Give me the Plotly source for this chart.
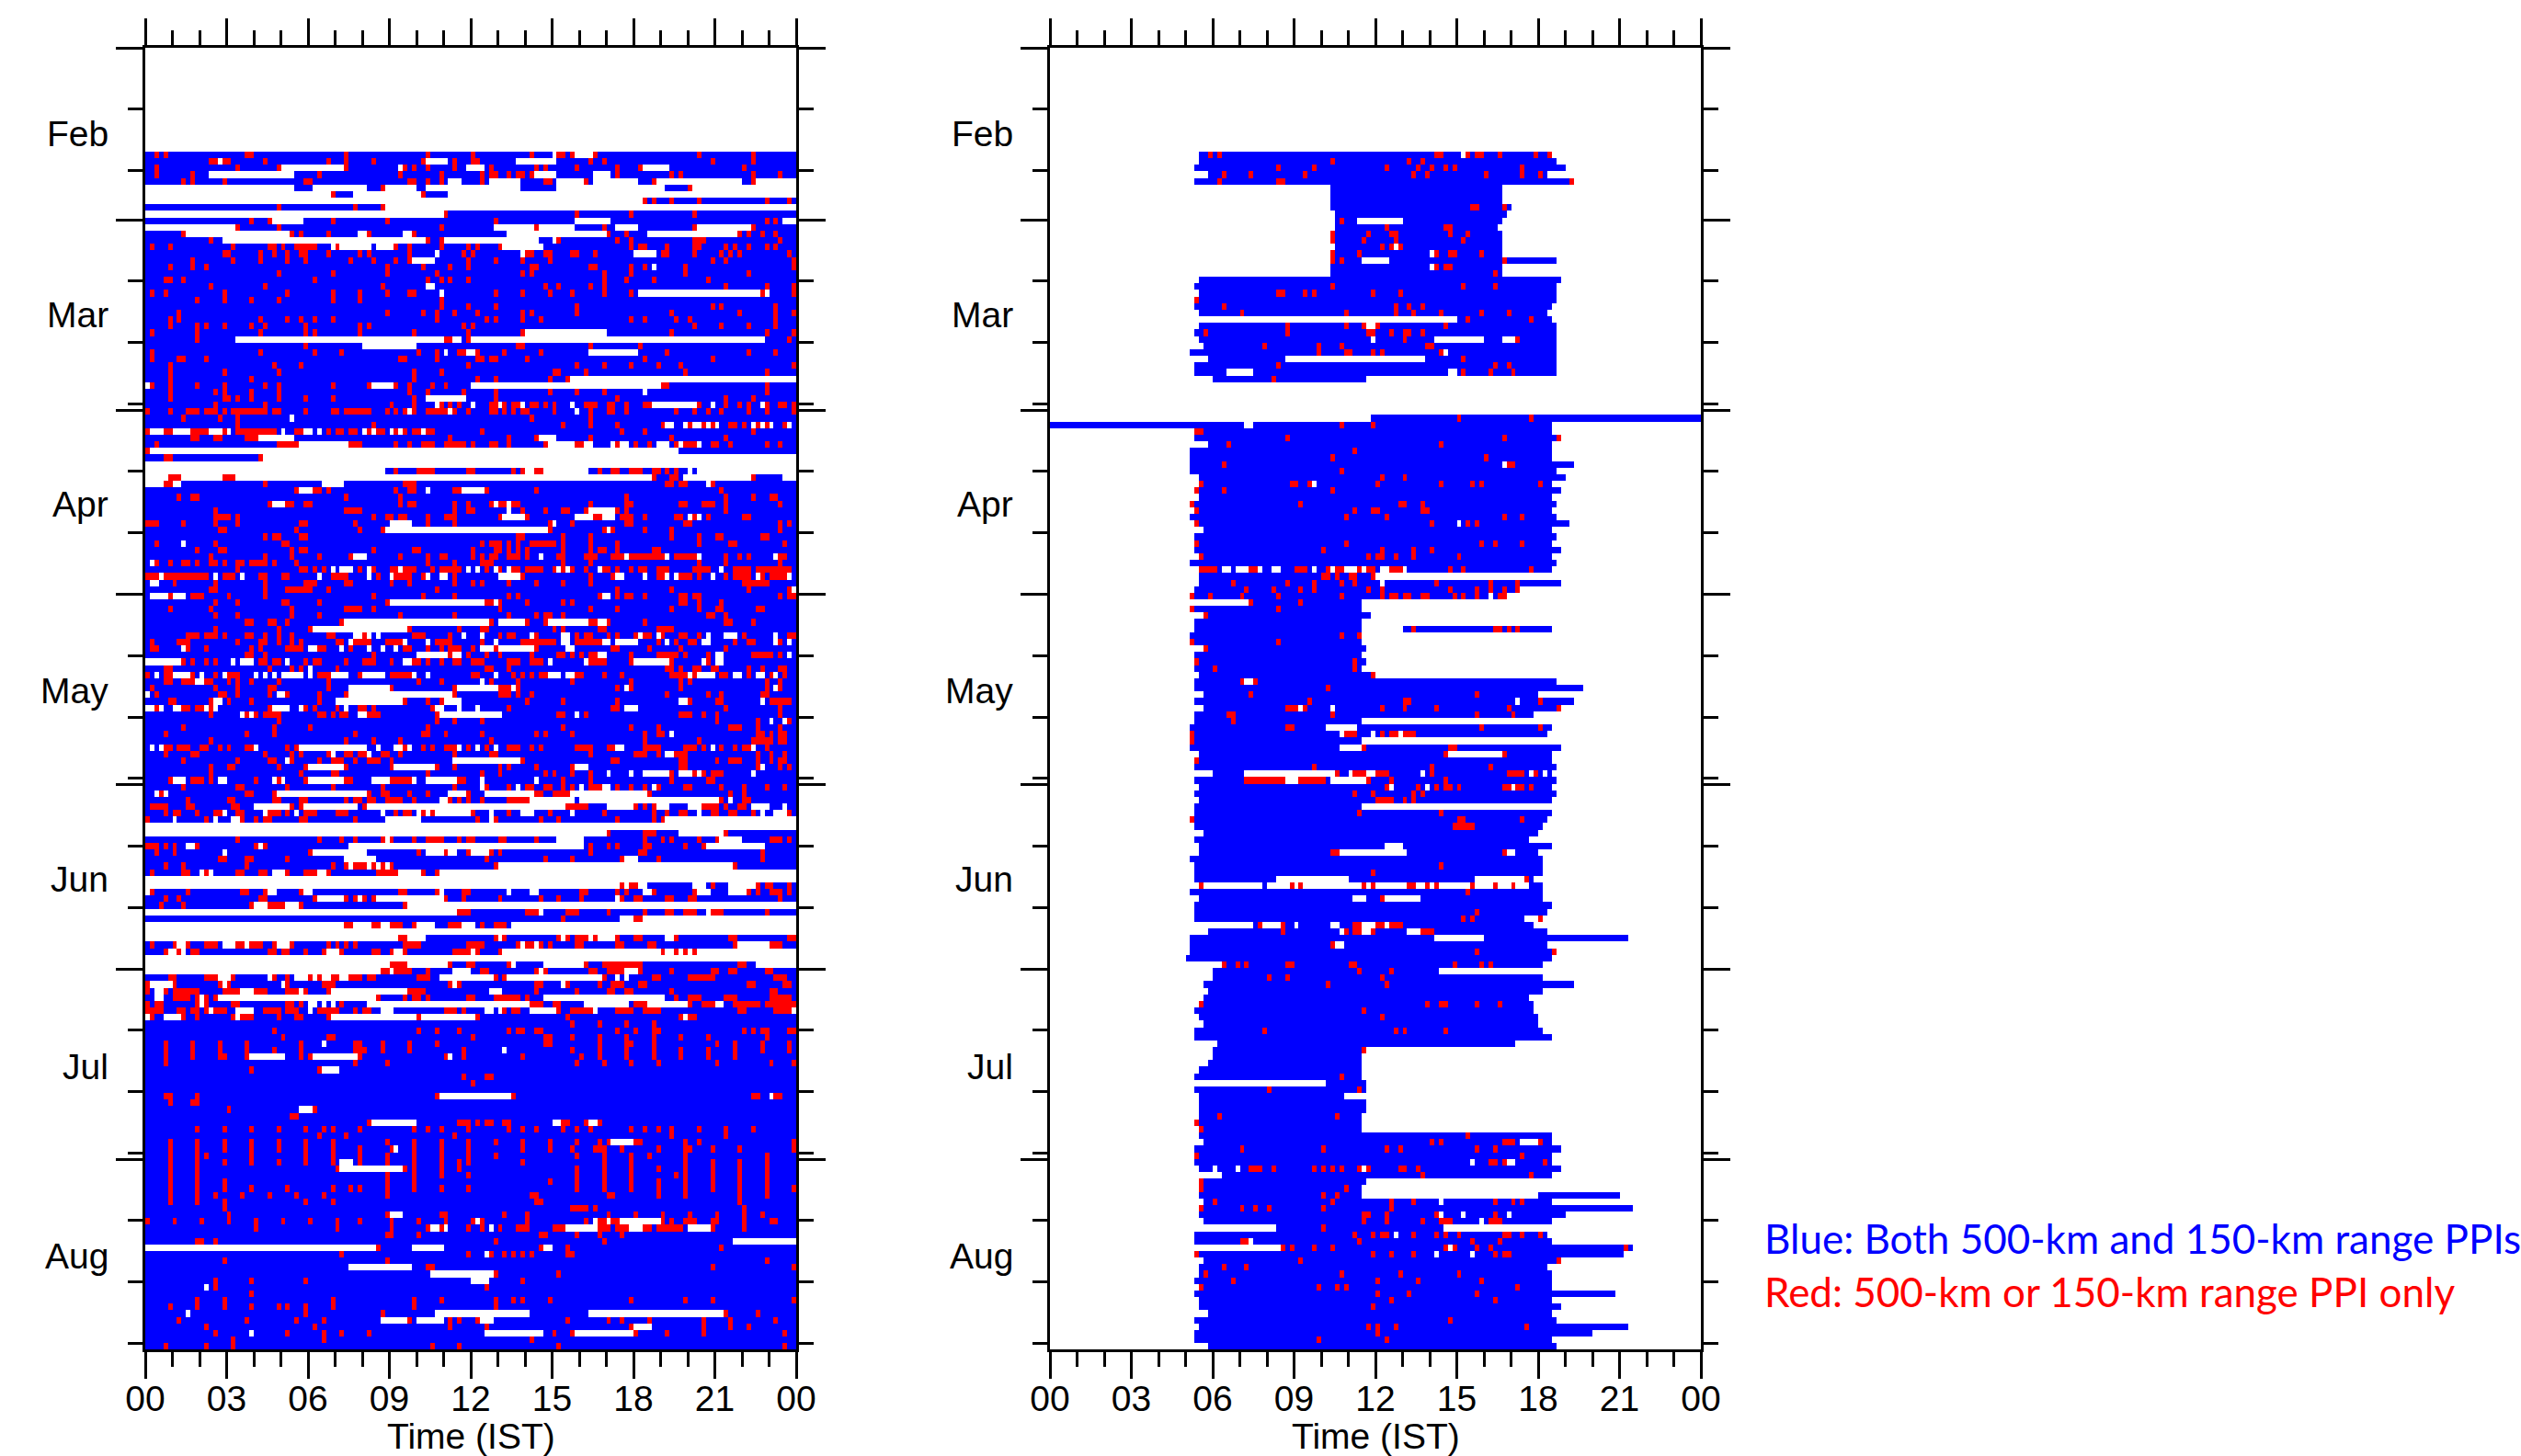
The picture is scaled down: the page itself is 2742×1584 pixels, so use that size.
import numpy as np
import plotly.graph_objects as go

# Time bins are 10 min (144 per day); rows run top to bottom. Each entry: (row, red cells, no-data cells)
left_rows = [
(16,[2,4,(22,23),44,62,72,85,(91,92),94,99,122,134],[90,(95,98)]),
(17,[14,15,(17,18),26,40,44,50,61,68,(72,73),98,101,125,134],[16,(62,66),(82,90)]),
(18,[2,20,29,44,57,59,62,68,76,86,88,95,104,109,132],[(30,43),56,(71,74),(110,115)]),
(19,[2,10,38,56,65,74,(76,77),80,(82,83),85,104,116,118,134,140],[(14,32),(86,90),(99,102)]),
(20,[8,10,17,(35,36),(58,59),62,65,74,(88,89),97,112,134],[(67,69),(76,82),(91,96),(99,108),(113,131),(135,143)]),
(21,[52,120],[(0,32),(37,48),(53,59),(62,82),(91,114),(121,143)]),
(22,[41,61],[(0,40),(46,60),(67,143)]),
(23,[110,112,116,122,137,142],[(0,109)]),
(24,[29,46,52],[(53,143)]),
(25,[66,95,107,121],[(0,65)]),
(26,[23,27,41,53,77,137,139],[(28,34),(95,102),(141,143)]),
(27,[20,29,65,86,101,121,134],[(0,19),(77,85),(87,94),(104,108),(122,133)]),
(28,[8,32,34,40,49,59,102,106,131,133,136,139],[(9,31),(47,48),(57,58),(80,101),(111,130)]),
(29,[14,62,65,91,104,107,(121,123),140],[(17,61),(66,86),90]),
(30,[1,5,19,(27,28),30,(33,36),37,42,55,58,65,71,73,78,107,(109,110),115,(121,122),128,130,133,137,139],[41,(43,49),(51,54),(79,87)]),
(31,[(17,18),25,28,31,(34,35),40,47,49,58,70,72,(84,85),(88,89),(94,95),99,(114,115),121,127,129,131,142],[64,83,(108,112)]),
(32,[10,19,25,31,35,45,50,55,58,71,77,83,89,125,128,143],[(59,63)]),
(33,[5,10,13,53,61,67,71,(85,86),(98,99),107,110,119,143],[112]),
(34,[29,41,53,64,83,85,101,107,119,133],[]),
(35,[(4,5),8,37,62,65,67,71,101,106,112,124],[]),
(36,[14,26,52,88,91,98,101,128,137,143],[(62,63)]),
(37,[1,4,17,31,41,47,53,(58,59),77,83,89,94,101,107,136,143],[65,(109,135),137]),
(38,[11,17,23,29,41,47,65],[]),
(39,[65,71,77,95,125,127,139],[]),
(40,[7,53,61,64,68,73,83,85,95,116,131,139,143],[]),
(41,[5,7,25,31,34,37,41,64,75,77,83,87,107,110,117,120,139],[]),
(42,[5,11,13,17,23,26,35,47,49,70,72,121,127,133,139],[]),
(43,[1,11,25,35,37,47,59,71,83,116,137,143],[(84,101)]),
(44,[11,(66,67),71,142],[(20,65),(68,69),(72,136)]),
(45,[35,(82,83),98,109],[(48,59)]),
(46,[1,25,37,43,60,64,(69,70),73,79,87,115,133,139],[66,(71,72),(98,108)]),
(47,[1,(7,8),13,(56,57),64,(73,74),(76,77),84,110,125],[]),
(48,[5,28,34,71,95,101,107,113,118,143],[]),
(49,[5,17,29,59,65,(90,91),97,119,137],[]),
(50,[5,23,59,73,77,89,93],[(94,143)]),
(51,[1,5,11,17,26,29,41,49,55,58,63,66,(114,115),137],[0,(50,54),(72,113)]),
(52,[5,15,17,23,29,58,62,70,77,89,95,101,137],[110]),
(53,[5,(17,18),20,23,29,35,41,59,77,104,128,134],[(62,70)]),
(54,[15,26,54,59,65,67,69,(76,77),79,(81,82),(85,86),88,90,(97,99),(102,103),106,(110,111),122,128,131,133,137,(140,141),143],[64,72,78,83,94,(112,121),125,136]),
(55,[0,5,(9,11),(13,15),17,(19,26),(28,29),35,(41,42),(44,49),53,55,57,59,(62,66),68,71,(76,77),79,81,(83,84),90,98,(102,103),106,117,121,124,127,133,137,143],[58,67,95]),
(56,[8,16,20,85,98],[32]),
(57,[20,50,92,98,104,114,120,123,125,(129,130),132,135,137,141],[(115,116),119,(121,122),124,126,134,136,138,142]),
(58,[0,(4,5),(10,13),17,(20,23),(24,28),(33,34),40,(42,43),(45,46),49,(51,52),55,57,(59,60),(62,63),74,105,110,134],[(1,3),(6,9),(14,16),18,30,35,36,38,48,50,54,56,61]),
(59,[(10,11),(15,16),(22,24),67,80,86,98,116,128],[(25,32),(87,90)]),
(60,[2,(29,32),33,(45,47),55,58,(61,63),(66,70),72,(76,77),80,88,(95,96),104,108,111,117,119,(120,121),(125,126),129,137,140],[(34,44),(89,94),(97,98),103,(105,106),(113,115),118,122]),
(61,[0],[(1,117)]),
(62,[(4,5),25],[(26,143)]),
(63,[],[(0,143)]),
(64,[55,(60,63),(71,72),81,83,(86,87),100,(103,104),(107,109),(112,113),115,117],[(0,52),(84,85),(88,97),120,(122,143)]),
(65,[(5,7),(17,19),112,(116,117),134],[(0,4),(8,16),(20,111),(119,133),(141,143)]),
(66,[(4,5),26,(57,59),(115,116),(118,119),125],[(0,3),(6,7),(39,43),124]),
(67,[33,(37,38),40,55,(58,59),(68,69),75,86,127],[(34,36),62,(70,74)]),
(68,[7,(10,11),44,56,106,128,134,(138,139)],[]),
(69,[27,(31,32),(35,36),56,(58,59),68,71,76,(78,79),(81,82),98,(106,107),(118,119),(123,125),128,140],[(28,30),77,80]),
(70,[15,(44,47),68,(71,72),83,88,(92,93),97,104,106,128],[80,(98,103)]),
(71,[(15,18),20,50,(53,54),(56,57),62,(66,68),78,84,(99,100),(105,107),110,117,118,121,124,(132,133)],[(79,84),(95,98),(101,103),120,122]),
(72,[(0,2),8,15,20,(34,35),46,62,68,89,94,(106,107),(119,120),140,142],[(54,58),90]),
(73,[(16,17),33,47,52,89,101,103,110,116,140],[(53,88),102]),
(74,[26,(28,29),(34,35),(82,83),92,98,116,122,(126,127),(136,137)],[]),
(75,[2,15,(30,31),74,(76,78),80,82,(85,87),(88,90),92,98,104,122,(129,130),141],[8]),
(76,[11,(16,17),32,(34,35),50,(59,60),72,(77,78),80,82,84,92,98,(100,101),104,(112,113)],[]),
(77,[14,26,32,38,45,56,62,(65,66),72,74,(76,77),(80,82),84,(91,92),(97,99),(103,105),(107,114),(117,119),(120,121),128,131,133,(140,141)],[(46,48),87,106,115,122,139]),
(78,[2,5,(8,9),11,(14,15),17,(20,21),(23,26),28,33,62,68,(74,76),92,98,122,128,140],[1]),
(79,[20,(34,35),37,39,47,50,(54,55),(57,59),63,65,(66,69),75,78,(81,82),(84,87),90,92,94,97,(101,102),104,107,109,110,(113,115),(121,124),(130,133),(135,137),(138,142)],[41,(43,45),49,56,71,73,77,80,91,93,100,127]),
(80,[(0,2),(4,13),(17,19),(25,26),(30,31),(41,43),44,51,(55,58),61,68,83,98,103,113,114,(118,120),122,128,(130,133),136,(138,141)],[3,15,21,38,49,54,62,(65,66),(78,82),(104,105),110,115,117,125,135,142]),
(81,[6,15,26,(35,37),(44,45),54,58,68,72,74,80,86,92,98,(132,135),(136,137)],[(1,2)]),
(82,[(14,15),26,(31,35),36,40,64,104,116,133,142],[35,143]),
(83,[5,(10,12),18,26,50,61,68,80,82,100,104,(106,107),110,(118,119),(121,122),140,(142,143)],[(1,4),(6,8),(101,102)]),
(84,[15,20,(30,31),38,53,(75,76),78,84,92,94,(118,119),122,127],[(54,74),77]),
(85,[5,14,32,(44,47),50,78,98,104,116,122,(126,127),(135,136)],[]),
(86,[15,20,32,38,56,68,80,86,(88,89),92,(124,125),128],[]),
(87,[(22,23),(27,28),31,43,76,84,88,(98,99),102,110,(128,129),134],[(44,75),(78,83),(89,97),(100,101)]),
(88,[15,29,36,58,69,(74,75),90,92,(100,101),(113,116)],[(37,57)]),
(89,[(9,11),(13,15),17,(22,23),26,29,32,(40,41),48,(59,61),67,78,(80,81),86,95,(97,98),102,104,108,(110,111),114,(118,119),122,132,(142,143)],[(46,47),49,51,70,74,85,(92,93),109,113,124,(128,130),139]),
(90,[1,(7,9),20,(25,26),29,32,34,(42,43),(46,49),(53,56),(64,66),67,74,(83,90),(95,100),113,117,(120,121),130,(133,134),140],[45,57,62,77,(92,93),(101,102),(104,108),115,(123,124),139,142]),
(91,[(1,2),9,13,23,25,(31,34),(38,39),45,(57,58),62,65,(67,69),72,77,86,103,104,111,118,128],[8,(36,37),43,49,52,55,(74,76),(78,85),(93,94)]),
(92,[(22,23),26,50,67,71,75,78,85,(91,92),94,96,(98,99),107,(113,117),119,124,(134,138),140],[(60,66),(68,69),(100,101),(126,127),142]),
(93,[8,10,13,15,(25,26),(28,29),35,(37,38),44,(48,50),54,(59,60),62,65,(68,69),(72,74),(80,82),(85,87),(98,101),107,116,124],[(0,7),19,(21,23),31,(57,58),89,97,(108,115),123,(126,127)]),
(94,[(4,5),27,32,34,42,75,76,80,(115,116),118,(121,122),(125,126),133,136,(140,141)],[36]),
(95,[0,(4,5),10,15,(18,20),(38,40),47,54,(55,58),(72,73),81,83,85,(87,88),(95,96),101,105,(116,119),121,127,128,133,138,141],[2,(6,9),12,17,24,26,28,(30,34),36,(41,44),(48,52),59,62,77,(89,91),(93,94),120,(122,125),(130,131),(135,136),139]),
(96,[(4,5),(8,10),(13,14),18,20,23,29,40,60,65,76,82,94,107,118,120,137,140],[(11,12),74]),
(97,[1,15,20,(27,28),40,54,68,(78,80),82,104,107,118,137,140],[(45,53),(69,77),81,106,139]),
(98,[2,(16,17),20,27,31,38,44,68,(78,80),82,85,115,124,127,(136,137)],[0,(29,30),(45,67)]),
(99,[(5,6),14,18,23,38,57,62,65,84,92,104,120,(126,127),(138,142)],[(15,16),(42,56),(65,69),(118,119),136]),
(100,[2,(8,9),(11,12),14,27,35,37,42,(47,48),50,63,80,(103,104),128,140],[(0,1),3,(6,7),13,15,(28,31),34,44,(64,65),69,73,(106,108)]),
(101,[14,22,24,(26,29),(38,39),41,(43,44),(49,51),64,(91,92),97,(118,120),123,126,140],[21,23,(47,48),(65,78),95]),
(102,[29,64,68,74,126,135,142],[138,141]),
(103,[8,28,36,62,92,107,113,(129,130),131,135,140],[]),
(104,[4,22,28,46,(61,62),66,74,86,88,94,110,(113,114),(135,136),138,(140,141)],[116]),
(105,[14,44,50,56,76,110,122,134,(135,137),138,(140,141)],[]),
(106,[(4,5),(7,9),(12,13),16,18,(22,23),31,33,57,61,63,(66,68),71,75,(80,82),85,87,(95,98),(102,103),(110,113),(119,121),123,127,130,(132,133),137],[1,3,24,(34,48),51,(55,56),58,69,73,77,(104,105),125,134]),
(107,[4,(10,11),26,32,34,40,(44,45),(47,48),(52,53),56,68,(76,77),98,(108,109),110,113,(117,119),135,138,141],[41,49,(115,116)]),
(108,[8,20,(27,28),32,38,(41,43),46,(49,51),54,83,(103,104),(118,119),126,(129,130),131,135,138,(140,141)],[31,(68,82)]),
(109,[14,(18,19),29,35,44,54,64,68,78,80,86,94,(118,119),135,140,142],[(36,43),(55,63),(95,97),136]),
(110,[14,34,(41,42),62,74,78,88,90,94,98,116,121,123,(125,127)],[102,107,(110,115),(118,120),122,134]),
(111,[5,(10,12),14,24,29,35,(44,45),(54,58),(69,70),92,98,116,(124,125)],[(6,8),(16,17),28,30,(36,43),(50,53),59,(62,68),74,86]),
(112,[8,(20,21),31,41,52,68,75,80,(84,85),(88,89),92,94,(98,100),104,107,110,113,(119,120),127,132,137,141],[74,82,96,(101,102),112]),
(113,[3,(22,23),28,49,(52,53),58,62,71,(86,87),(90,93),111,129,132],[2,4,(29,48),(67,70),(75,85),(94,110)]),
(114,[9,(18,19),(28,29),(34,35),44,(46,47),(49,50),(53,54),(55,56),59,67,69,71,74,(80,84),127,(132,133)],[(65,66),(85,94),(96,126),129]),
(115,[(1,4),(9,10),(19,20),32,34,48,(93,97),108,110,112,(123,126),128,(131,132)],[(24,31),(35,46),(49,92),(102,103),(104,107),(113,115),(120,122),(134,137),141]),
(116,[4,(6,7),11,(15,16),(20,21),(27,29),31,(35,37),(42,44),55,(57,58),61,63,72,80,89,101,112,115,(118,119),(125,126),(129,130),134,142],[17,26,33,52,60,62,(64,71),76,(83,85),94,122,136,(139,141)]),
(117,[0,13,(21,21),24,(26,27),(34,35),46,73,77,87,91,104,112,114],[6,15,(19,20),(53,60),76,(115,143)]),
(118,[],[(0,143)]),
(119,[102,(110,112),128],[(0,101),(118,127)]),
(120,[20,38,43,46,52,54,59,(62,65),69,(71,72),(78,79),86,110,114,116,122,126,(138,140),142],[53,(91,96),(127,131)]),
(121,[(0,2),4,6,11,24,26,98,102,104,(110,111),119,123],[(9,10),25,(45,96),(124,136)]),
(122,[2,6,36,60,66,71,76,78,98,(109,110),136],[17,(37,48),(62,65),(67,68),(72,75)]),
(123,[(16,17),(22,23),31,75,88,94,105,113,136],[(44,50),(106,108)]),
(124,[4,8,22,41,44,46,(47,48),50,52,54,77,130],[45,49,51,53,(78,129)]),
(125,[1,(8,9),13,(20,21),(25,26),31,(35,37),40,(51,55),61,64],[(12,14),(28,30),(38,39),(56,60),(65,143)]),
(126,[],[(0,143)]),
(127,[105,(107,108),125,135,(137,138),142],[(0,104),106,(109,110),(121,123),(129,134)]),
(128,[1,9,(21,22),26,34,(56,57),64,(70,71),(96,97),104,106,112,121,133,135,(138,140),142],[0,(27,28),(35,36),65,80,(85,86),(110,111),(122,124),(129,132)]),
(129,[4,7,(25,26),37,44,46,48,50,66,70,78,87,91,96,105,(108,109),(115,116),(120,121),140],[(38,43),47,(51,65),104]),
(130,[3,8,23,(27,30),34,57],[(24,26),(31,33),(58,143)]),
(131,[(69,71),(84,86),(93,95),102,110,(115,116),(119,121),(125,127),137],[(0,68),87,124]),
(132,[92,(108,109)],[(105,107),(110,143)]),
(133,[(44,45),(50,51),(54,56),59,(67,69),74,(77,79)],[(0,43),(46,49),(52,53),(60,63),(70,72),(81,143)]),
(134,[],[(0,143)]),
(135,[(56,57),77,79,91,93,(95,97),99,104,(108,109),117,(129,130),(142,143)],[(0,55),(58,61),78,92,98,(100,103),(115,116)]),
(136,[1,6,9,(13,14),15,(20,21),(23,25),28,32,40,42,44,46,(57,60),(71,74),82,(84,85),87,89,(95,96),(104,105),(111,112),130,(138,140)],[(7,8),(17,19),(22,22),(29,31),83,86,(131,137)]),
(137,[4,7,(10,11),(27,28),(30,31),35,39,43,(50,51),54,57,(68,71),73,78,114,117,119,121],[(5,6),8,(40,42),(55,56),72,(79,113),(115,116),118,120,(122,143)]),
(138,[],[(0,143)]),
(139,[(54,57),67,(71,72),80,97,(101,105),(106,108),109,(131,132)],[(0,53),(58,66),81,(88,96),(135,143)]),
(140,[(52,53),(55,58),62,(74,75),86,88,(98,99),(102,105),109,116,(125,126),(129,130),(137,138)],[(0,51),(54,54),(68,71),87,(106,108)]),
(141,[(5,6),(13,15),19,28,31,36,38,(41,42),(45,47),(49,50),(60,62),77,79,101,(112,113),(120,125),(139,141)],[(16,18),27,(33,35),(37,37),(39,40),(43,44),(65,76),(80,100),104,106]),
(142,[0,6,16,18,31,(39,41),67,69,(86,87),93,100,(103,105),(109,110),(133,134),(141,142)],[(1,5),17,30,68,92]),
(143,[0,4,(6,11),17,(18,20),(24,26),(31,33),35,40,(58,61),86,95,(102,103),(106,107),116,(138,139)],[(2,3),(21,23),(34,35),(41,57),(76,78)]),
(144,[(6,9),11,13,15,51,57,(59,60),62,(71,72),(77,81),82,84,117,(120,122),(128,130),(138,142)],[(2,3),12,(16,50),(88,102),(103,114)]),
(145,[0,(2,3),11,13,(19,20),(31,32),34,43,(85,87),(90,91),108,(109,110),120,(123,125),(130,133),(134,135),(137,143)],[12,(36,37),39,41,(49,85),(97,106),(111,119),(126,127)]),
(146,[(0,3),(7,8),(10,11),13,(15,17),(26,29),(31,33),(38,42),46,(48,49),(66,68),70,79,(81,82),91,(94,98),(104,107),(110,113),(131,132),(139,142)],[14,(20,23),36,(52,54),(75,76),78,(85,90),99,143]),
(147,[1,8,11,19,(21,23),29,(33,34),40,60,73,93,118,(120,121)],[0,(4,7),20,(41,59),(61,72),119]),
(148,[94,100,106,112],[]),
(149,[28,60,64,69,80,(82,83),(86,87),104,108,(112,113),132,134,(136,137),(142,143)],[]),
(150,[30,(40,41),72,(88,89),94,100,106,112,118,124,137],[]),
(151,[4,10,16,22,34,(46,47),52,58,64,(88,89),100,(106,107),112,126,130,136,142],[39]),
(152,[4,10,16,22,28,34,(46,47),48,52,58,70,94,100,106,112,118,124,130,136,142],[79]),
(153,[4,10,(16,17),22,34,36,47,66,70,83,96,100,106,112,118,124,130],[(23,30),(37,46),67]),
(154,[4,46,53,95,101,107,113,126,138,143],[]),
(155,[23,38],[(39,42)]),
(156,[70,(75,76)],[]),
(157,[72],[]),
(159,[(4,5),11,64,81,(134,135),(139,140)],[(65,80),138]),
(160,[5,(10,11)],[]),
(161,[18,37],[(34,36)]),
(162,[(32,33)],[]),
(163,[49,(69,71),73,(75,76),(79,80),(92,93),97,100],[(50,59),(90,91),(98,99)]),
(164,[11,17,23,29,35,39,41,47,59,62,65,71,80,83,86,92,95,98,107,110,113,116,122,128,134],[]),
(165,[38,44,68,116,128],[]),
(166,[5,11,17,23,29,35,41,53,59,65,71,77,83,89,95,100,102,(108,109),119,122,143],[(103,107)]),
(167,[5,11,17,23,29,35,41,47,54,59,65,71,83,89,94,(99,100),101,105,113,(119,120),125,131,143],[55]),
(168,[5,11,13,23,35,41,47,53,59,65,71,77,95,101,107,111,119,137],[]),
(169,[5,11,17,23,29,35,41,47,53,59,65,69,71,83,101,107,119,125,131,137],[(43,45)]),
(170,[5,11,42,57,59,65,69,95,101,107,113,119,125,131,137],[(43,56)]),
(171,[5,11,53,59,65,71,95,101,107,117,119,125,131,137],[]),
(172,[5,11,17,53,59,89,95,101,107,113,119,125,131,137],[]),
(173,[5,11,17,23,31,41,45,47,53,59,65,71,95,101,107,113,119,125,131,137,143],[]),
(174,[5,11,15,21,27,33,39,53,(85,86),(102,103),113,119,131,137],[]),
(175,[5,11,17,35,41,(86,87),131],[]),
(176,[17,(94,97),99,132],[]),
(177,[18,53,(65,66),79,84,102,108,114,120,126,132,136],[(54,56)]),
(178,[0,6,12,18,24,30,36,42,47,54,60,66,72,74,84,97,(100,101),(103,104),114,116,(119,121),(125,126),132,(138,139)],[73,99,102,(105,113)]),
(179,[24,42,54,62,65,71,74,78,(82,84),(90,92),(100,102),(104,106),(110,111),(113,118),125,132],[(63,64),66,76,(93,99),(107,109),(120,124)]),
(180,[(53,54),60,(87,88),95,100,105],[]),
(181,[(11,12),15,77,101],[(130,143)]),
(182,[51,87,93,127],[(0,50),(59,65),(88,89)]),
(183,[43,71,76,79,81,83,85,(93,94)],[75]),
(184,[17,53,137],[]),
(185,[(62,63),125,143],[(45,58)]),
(186,[77,91],[(63,76)]),
(187,[15,23,35,83],[(72,75)]),
(188,[15,75],[13]),
(189,[23],[]),
(190,[11,17,41,59,65,77,81,83,89,107,119,125,143],[]),
(191,[5,11,17,23,29,31,35,41,59,77],[]),
(192,[35,52,128,135],[9,(64,84),(98,127)]),
(193,[7,22,33,39,58,67,69,73,93,102,105,111,123,129,139],[(52,57),(60,65),(74,76)]),
(194,[13,37,67,75,107,123,129,133],[(108,111)]),
(195,[15,31,39,43,49,90,94,108,115,123,141],[23,(75,87),(95,107)]),
(196,[19,39,85],[]),
(197,[4,13,19,63,69,91,141],[]),
]

# (row, first bin, last bin, red cells, no-data cells)
right_rows = [
(16,33,110,[35,37,(85,86),92,(94,95),99,107,110],[91]),
(17,33,111,[62,79,82],[]),
(18,32,113,[50,58,74,81,84,87,89,104],[]),
(19,35,109,[38,44,56,80,83,96,104,108],[]),
(20,32,115,[37,(50,51),115],[]),
(21,62,99,[],[]),(22,62,99,[],[]),(23,62,99,[],[]),
(24,62,101,[(93,94),100],[]),
(25,63,100,[],[]),
(26,63,99,[64],[(68,77)]),
(27,63,98,[74,(87,88)],[]),
(28,62,99,[62,70,(75,76),88,92],[]),
(29,62,99,[62,69,76,91],[]),
(30,63,99,[73,75,77],[76]),
(31,62,99,[62,68,85,(88,89),95],[84]),
(32,62,111,[62,64,100],[(69,74)]),
(33,62,99,[85,(87,88)],[84]),
(34,62,99,[98],[]),
(35,33,112,[],[]),
(36,32,111,[62,91,98],[]),
(37,33,111,[(50,51),56,58,71,77],[]),
(38,32,111,[32],[]),
(39,32,110,[38,76,79,82],[]),
(40,33,109,[42,65,76,80,86,95,101],[]),
(41,90,110,[92,106],[]),
(42,33,111,[52,65,69,72,87],[(70,71)]),
(43,32,111,[34,52,(70,71),75,(78,79),82],[]),
(44,33,111,[78,103],[71,(85,95),(100,102)]),
(45,34,111,[47,59,64,(83,84)],[]),
(46,31,111,[59,(65,66),71,73,86],[87]),
(47,35,111,[91],[(52,82)]),
(48,32,111,[50,98,101],[]),
(49,32,111,[91,97,102],[(39,44),88,89]),
(50,36,69,[49],[]),
(56,71,143,[90,106],[]),
(57,0,110,[64,71],[(43,44)]),
(58,32,110,[(32,33)],[]),
(59,32,112,[52,100,112],[]),
(60,35,110,[39,86],[]),
(61,31,110,[67],[]),
(62,31,110,[62,96],[]),
(63,31,115,[38,(101,102)],[100]),
(64,31,111,[64],[]),
(65,33,113,[73,78],[]),
(66,33,110,[33,(53,54),57,72,86,93,95,108],[58]),
(67,32,112,[32,38,62],[]),
(68,33,110,[],[]),
(69,31,111,[31,55,(77,78),82],[]),
(70,32,110,[32,67,(71,72),(82,83)],[]),
(71,31,111,[65,74,100,104],[]),
(72,32,114,[32,84,92,94],[90]),
(73,34,110,[],[]),
(74,32,111,[],[]),
(75,32,110,[32,65,95,98,104],[]),
(76,32,112,[60,73,80,84],[]),
(77,33,110,[33,70,(72,73),76,80,90],[]),
(78,31,111,[],[]),
(79,33,110,[(33,36),(44,45),(54,56),61,(63,64),68,(70,71),(75,77),88,91,106],[(38,39),(41,43),46,(49,50),58,62,(65,67),69,(73,74),78]),
(80,33,71,[(60,61),63,(66,67),71],[]),
(81,33,112,[40,52,58,64,67,85,97,103],[73]),
(82,32,103,[43,49,55,58,70,73,88,94,97,100,103],[]),
(83,31,100,[31,35,42,50,64,73,(75,76),(78,79),(82,83),89,91,94,(99,100)],[97]),
(84,44,68,[44,55],[]),
(85,31,68,[31,50],[]),
(86,34,70,[34],[]),
(87,32,68,[],[]),
(88,32,110,[80,(98,99),101,103],[(69,77)]),
(89,31,68,[64,68],[]),
(90,31,68,[31,50],[]),
(91,34,69,[34],[]),
(92,32,68,[],[]),
(93,32,69,[32,67],[]),
(94,32,68,[36,67],[]),
(95,33,71,[71],[]),
(96,32,111,[42,45],[(43,44)]),
(97,32,117,[61],[]),
(98,34,107,[44,94],[]),
(99,32,115,[57,(78,79),108],[103]),
(100,34,112,[(52,54),56,73,78,85,101,112],[55,62]),
(101,32,106,[(39,40),62,94,102],[]),
(102,32,68,[40],[]),
(103,31,110,[(52,53),95,108],[(61,67)]),
(104,31,109,[31,(65,67),73,(75,76),(78,80)],[64,71,77]),
(105,31,68,[31],[]),
(106,31,112,[69,(88,89)],[(64,68)]),
(107,33,110,[87,100],[(88,99)]),
(108,32,110,[32],[]),
(109,32,111,[58,84,97],[]),
(110,36,110,[63,(67,69),(72,74),84,(101,104),107],[(43,62),(66,66),(70,71),82,106,109]),
(111,32,111,[(43,48),(49,51),(55,60),70,75,87],[(52,54),(62,69)]),
(112,33,110,[74,81,85,(87,88),90,(100,101),(103,104),106],[75,83,102]),
(113,32,111,[67,71,80,82],[]),
(114,33,110,[(72,75),78,80],[]),
(115,32,68,[],[]),
(116,32,110,[68,86],[]),
(117,31,109,[31,(90,91),104],[]),
(118,32,108,[(89,92),93],[92]),
(119,34,107,[],[]),
(120,32,105,[],[]),
(121,33,110,[],[(74,77)]),
(122,33,107,[(62,63),100],[(64,78),(101,102)]),
(123,31,108,[],[]),
(124,32,108,[86],[]),
(125,32,108,[71],[]),
(126,32,106,[105],[(50,65),(94,104)]),
(127,33,108,[33,53,55,69,71,(79,80),83,85,93,98,102],[(34,46),(48,52),54,(56,68),70,(72,78),(81,82),84,(86,92),(94,97),(99,101),(103,105)]),
(128,31,108,[92],[]),
(129,33,108,[73],[(67,69),(74,81)]),
(130,32,110,[],[]),
(131,32,109,[94],[]),
(132,32,108,[91,93,108],[(105,107)]),
(133,45,106,[46,51,(67,68),(72,73),(75,77)],[(47,50),54,(62,63),(69,71),74]),
(134,35,109,[51,65,(67,68),71,(82,84)],[64,(69,70),(79,81)]),
(135,31,127,[],[(85,95)]),
(136,31,109,[62],[(63,64)]),
(137,31,111,[94,111],[]),
(138,30,110,[],[]),
(139,38,108,[38,41,43,(52,53),(66,67),89,95,97],[]),
(140,36,85,[68,75],[]),
(141,36,108,[48,52,73],[]),
(142,34,115,[61,74],[]),
(143,35,108,[],[]),
(144,34,105,[],[]),
(145,33,106,[33,83,(86,87),94,99],[]),
(146,32,106,[69],[]),
(147,33,107,[73],[]),
(148,34,107,[],[]),
(149,32,108,[47,76,78,87],[]),
(150,32,110,[],[]),
(151,37,102,[],[]),
(152,36,69,[69],[]),
(153,36,68,[],[]),
(154,35,68,[],[]),
(155,33,68,[],[]),
(156,32,68,[64],[]),
(157,61,69,[],[]),
(158,32,69,[48,68],[]),
(159,33,64,[],[]),
(160,33,69,[],[]),
(161,33,69,[],[]),
(162,33,68,[37,63],[]),
(163,32,68,[32],[]),
(164,33,68,[33],[]),
(165,33,110,[92],[]),
(166,34,110,[84,86,(100,102),108],[(104,107)]),
(167,32,112,[42,60,74,77,94,98],[]),
(168,32,110,[32,104],[]),
(169,32,110,[(97,98),100,109],[93,(101,102)]),
(170,33,112,[(44,46),49,58,60,62,64,68,70,(77,78),81],[36,41,69]),
(171,38,110,[82,106],[]),
(172,33,69,[33],[]),
(173,33,68,[33,65],[]),
(174,33,125,[60,63],[(69,107)]),
(175,34,110,[36,62,75,80,98,102,104],[86]),
(176,33,128,[33,42,45,48,60,75],[]),
(177,33,113,[(69,70),74,85,98],[86,91,101]),
(178,34,110,[69,74,82,(86,88),(97,99)],[95]),
(179,50,86,[60],[]),
(180,32,109,[67,71,(73,74),80,85,87,90,(100,101),104,108],[76]),
(181,32,110,[(42,43),68,93,99],[44]),
(182,51,128,[51,53,58,62,87,89,94,97,127],[88]),
(183,32,126,[32,71,75,80,98,(100,101)],[85,93]),
(184,34,112,[55,112],[]),
(185,33,109,[38,43],[]),
(186,33,110,[34,64,77,90],[]),
(187,32,110,[40,72,81,95],[]),
(188,33,110,[33,59,63,65,103],[]),
(189,32,124,[72,79,94],[]),
(190,33,110,[75,98],[]),
(191,33,112,[71],[]),
(192,35,110,[],[]),
(193,32,111,[88],[]),
(194,33,127,[70,72,76,105],[]),
(195,32,119,[72],[]),
(196,32,110,[59,74],[]),
(197,35,111,[],[]),
]

n_rows = 198
n_bins = 144
months = ["Feb","Mar","Apr","May","Jun","Jul","Aug"]
month_label_y_px = [145,343,548,752,957,1160,1366]
month_major_days = [0,28,59,89,120,150,181,212]
month_minor_days = [10,20,38,48,58,69,79,99,109,119,130,140,160,170,180,191,201,211]
hour_major = [0,3,6,9,12,15,18,21,24]
hour_labels = ["00","03","06","09","12","15","18","21","00"]
hour_minor = [h for h in range(25) if h % 3]
legend_texts = ["Blue: Both 500-km and 150-km range PPIs","Red: 500-km or 150-km range PPI only"]

W, H = 2742, 1584
TOP, BOT = 52, 1468
ROW_PX = 7.16
Y_TOP = 0.22
Y_BOT = Y_TOP + (BOT-TOP)/ROW_PX
DAY_PX = 6.68
def day_to_row(d):
    return d*DAY_PX/ROW_PX + Y_TOP

def expand(items):
    out = []
    for it in items:
        if isinstance(it, tuple):
            out.extend(range(it[0], it[1]+1))
        else:
            out.append(it)
    return out

def build_left():
    z = np.full((n_rows, n_bins), np.nan)
    z[16:] = 1
    for r, reds, whites in left_rows:
        for c in expand(whites):
            z[r, c] = np.nan
        for c in expand(reds):
            z[r, c] = 2
    return z

def build_right():
    z = np.full((n_rows, n_bins), np.nan)
    for r, a, b, reds, whites in right_rows:
        z[r, a:b+1] = 1
        for c in expand(whites):
            z[r, c] = np.nan
        for c in expand(reds):
            z[r, c] = 2
    return z

x = (np.arange(n_bins)+0.5)/6
y = np.arange(n_rows)+0.5
cs = [[0,"#0000ff"],[0.5,"#0000ff"],[0.5,"#ff0000"],[1,"#ff0000"]]

fig = go.Figure()
for z, xa, ya in ((build_left(),"x","y"),(build_right(),"x2","y2")):
    fig.add_trace(go.Heatmap(z=z, x=x, y=y, xaxis=xa, yaxis=ya, zmin=1, zmax=2, colorscale=cs,
                             showscale=False, hoverinfo="skip", zsmooth=False, xgap=0, ygap=0))

font = dict(family="Liberation Sans", size=39, color="black")
xa = dict(range=[0,24], tickmode="array", tickvals=hour_major, ticktext=hour_labels, ticks="outside",
          ticklen=29, tickwidth=2.5, tickcolor="black", showline=True, linecolor="black", linewidth=3,
          mirror="ticks", showgrid=False, zeroline=False, tickfont=font, tickangle=0, ticklabelstandoff=-12,
          minor=dict(tickmode="array", tickvals=hour_minor, ticks="outside", ticklen=16, tickwidth=2.5,
                     tickcolor="black", showgrid=False))
ya = dict(range=[Y_BOT,Y_TOP], tickmode="array", tickvals=[day_to_row(d) for d in month_major_days],
          ticktext=[""]*len(month_major_days), ticks="outside", ticklen=29, tickwidth=3, tickcolor="black",
          showline=True, linecolor="black", linewidth=3, mirror="ticks", showgrid=False, zeroline=False,
          minor=dict(tickmode="array", tickvals=[day_to_row(d) for d in month_minor_days], ticks="outside",
                     ticklen=16, tickwidth=3, tickcolor="black", showgrid=False))
ydom = [1-BOT/H, 1-TOP/H]
fig.update_layout(
    width=W, height=H, margin=dict(l=0,r=0,t=0,b=0,pad=0,autoexpand=False), paper_bgcolor="white", plot_bgcolor="white",
    xaxis=dict(xa, domain=[158/W,866/W], anchor="y"),
    yaxis=dict(ya, domain=ydom, anchor="x"),
    xaxis2=dict(xa, domain=[1142/W,1850/W], anchor="y2"),
    yaxis2=dict(ya, domain=ydom, anchor="x2"),
)
ann = []
for px_right, center in ((120,512),(1104,1496)):
    for m, py in zip(months, month_label_y_px):
        ann.append(dict(text=m, xref="paper", yref="paper", x=px_right/W, y=1-py/H, xanchor="right",
                        yanchor="middle", showarrow=False, font=font))
    ann.append(dict(text="Time (IST)", xref="paper", yref="paper", x=center/W, y=1-1562/H, xanchor="center",
                    yanchor="middle", showarrow=False, font=font))
for t, c, py in zip(legend_texts, ("#0000ff","#ff0000"), (1347,1405)):
    ann.append(dict(text=t, xref="paper", yref="paper", x=1917/W, y=1-py/H, xanchor="left", yanchor="middle",
                    showarrow=False, font=dict(family="Lato", size=44, color=c)))
fig.update_layout(annotations=ann)
fig.write_html("out.html", post_script="document.body.style.margin='0';", config={"displayModeBar":False})
